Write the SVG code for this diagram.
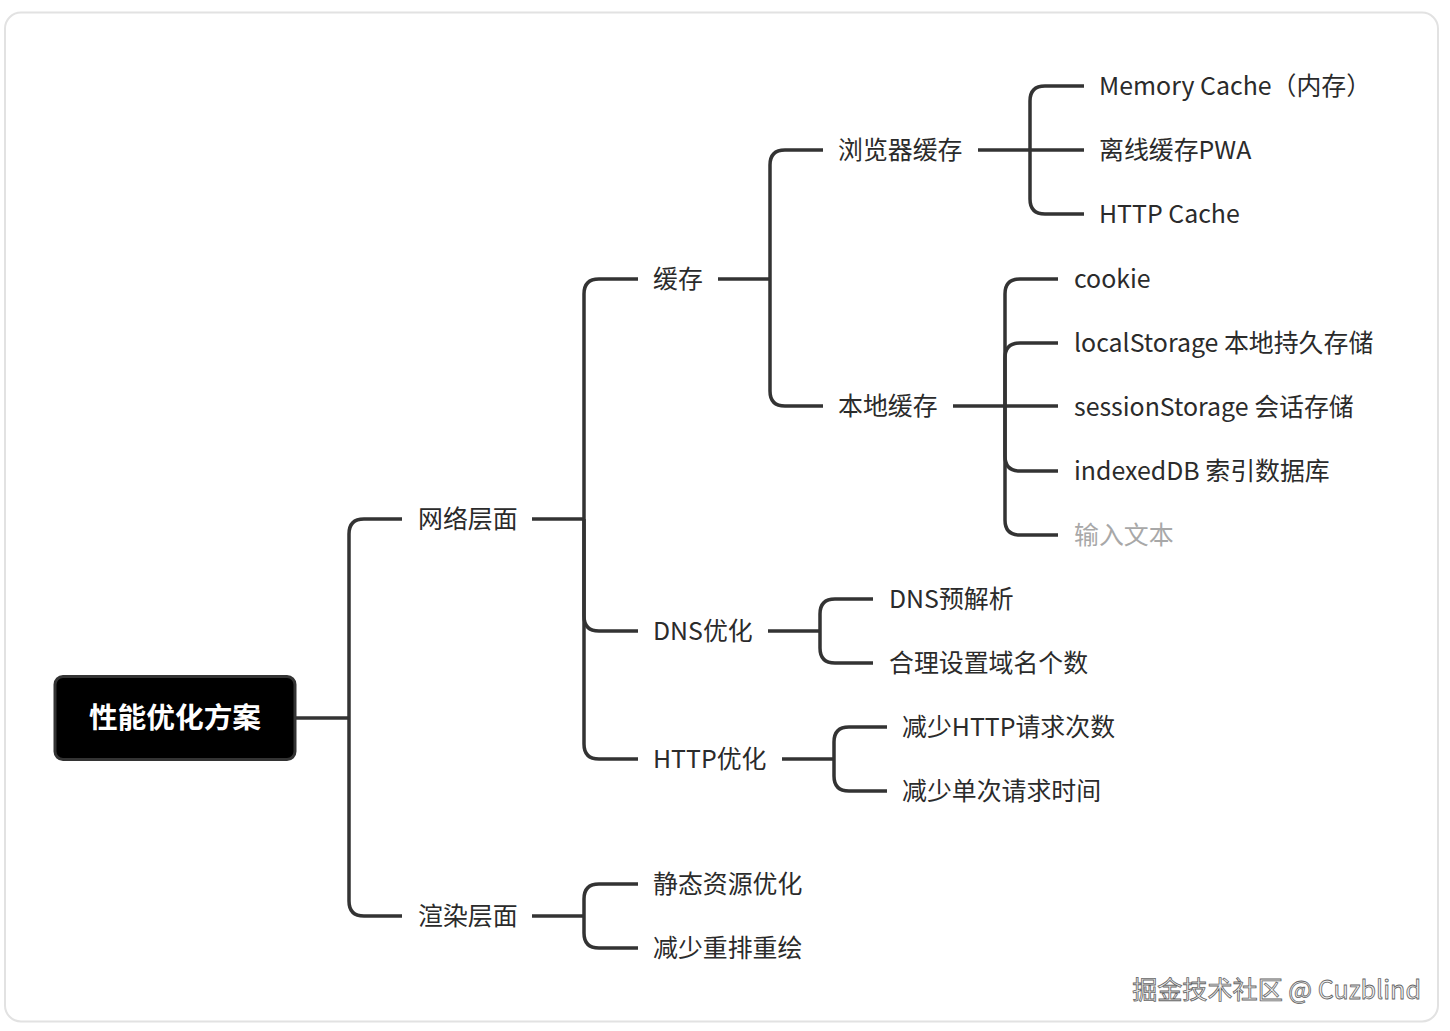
<svg xmlns="http://www.w3.org/2000/svg" width="1450" height="1031" viewBox="0 0 1450 1031">
<style>
.t{font-family:"Noto Sans CJK SC","Noto Sans",sans-serif;font-size:24.9px;fill:#2b2b2b}
.g{fill:#a8a8a8}
.root{font-family:"Noto Sans CJK SC","Noto Sans",sans-serif;font-size:28.7px;font-weight:bold;fill:#fff}
.c path{fill:none;stroke:#333;stroke-width:3.5;stroke-linecap:butt}
.wm{font-family:"Noto Sans CJK SC","Noto Sans",sans-serif;font-size:25.1px;fill:#f2f2f2;stroke:#666;stroke-width:0.8}
</style>
<rect x="0" y="0" width="1450" height="1031" fill="#fff"/>
<rect x="5" y="12.5" width="1433" height="1009" rx="16" fill="#fff" stroke="#e2e2e2" stroke-width="2"/>
<g class="c" id="connectors">
<path d="M295,718 H349"/>
<path d="M349,718 V534 Q349,519 364,519 H402"/>
<path d="M349,718 V901 Q349,916 364,916 H402"/>
<path d="M532,519 H584"/>
<path d="M584,519 V294 Q584,279 599,279 H638"/>
<path d="M584,519 V616 Q584,631 599,631 H638"/>
<path d="M584,519 V744 Q584,759 599,759 H638"/>
<path d="M718,279 H770"/>
<path d="M770,279 V165 Q770,150 785,150 H823"/>
<path d="M770,279 V391 Q770,406 785,406 H823"/>
<path d="M978,150 H1030"/>
<path d="M1030,150 V101 Q1030,86 1045,86 H1084"/>
<path d="M1030,150 H1084"/>
<path d="M1030,150 V199 Q1030,214 1045,214 H1084"/>
<path d="M953,406 H1005"/>
<path d="M1005,406 V294 Q1005,279 1020,279 H1058"/>
<path d="M1005,406 V358 Q1005,343 1020,343 H1058"/>
<path d="M1005,406 H1058"/>
<path d="M1005,406 V456 Q1005,471 1020,471 H1058"/>
<path d="M1005,406 V520 Q1005,535 1020,535 H1058"/>
<path d="M768,631 H820"/>
<path d="M820,631 V614 Q820,599 835,599 H873"/>
<path d="M820,631 V648 Q820,663 835,663 H873"/>
<path d="M782,759 H834"/>
<path d="M834,759 V742 Q834,727 849,727 H887"/>
<path d="M834,759 V776 Q834,791 849,791 H887"/>
<path d="M532,916 H584"/>
<path d="M584,916 V899 Q584,884 599,884 H638"/>
<path d="M584,916 V933 Q584,948 599,948 H638"/>
</g>
<g id="root">
<rect x="55" y="676.5" width="240" height="83" rx="8" fill="#000" stroke="#333" stroke-width="3"/>
<text class="root" x="175" y="728" text-anchor="middle">性能优化方案</text>
</g>
<g id="n-network"><text class="t" x="418" y="528">网络层面</text></g>
<g id="n-render"><text class="t" x="418" y="925">渲染层面</text></g>
<g id="n-cache"><text class="t" x="653" y="288">缓存</text></g>
<g id="n-dns"><text class="t" x="653" y="640">DNS优化</text></g>
<g id="n-http"><text class="t" x="653" y="768">HTTP优化</text></g>
<g id="n-browser"><text class="t" x="838" y="159">浏览器缓存</text></g>
<g id="n-local"><text class="t" x="838" y="415">本地缓存</text></g>
<g id="n-memory"><text class="t" x="1099" y="95">Memory Cache（内存）</text></g>
<g id="n-pwa"><text class="t" x="1099" y="159">离线缓存PWA</text></g>
<g id="n-httpcache"><text class="t" x="1099" y="223">HTTP Cache</text></g>
<g id="n-cookie"><text class="t" x="1074" y="288">cookie</text></g>
<g id="n-localstorage"><text class="t" x="1074" y="352">localStorage 本地持久存储</text></g>
<g id="n-session"><text class="t" x="1074" y="416">sessionStorage 会话存储</text></g>
<g id="n-indexeddb"><text class="t" x="1074" y="480">indexedDB 索引数据库</text></g>
<g id="n-input"><text class="t g" x="1074" y="544">输入文本</text></g>
<g id="n-dnspre"><text class="t" x="889" y="608">DNS预解析</text></g>
<g id="n-domain"><text class="t" x="889" y="672">合理设置域名个数</text></g>
<g id="n-reqcount"><text class="t" x="902" y="736">减少HTTP请求次数</text></g>
<g id="n-reqtime"><text class="t" x="902" y="800">减少单次请求时间</text></g>
<g id="n-static"><text class="t" x="653" y="893">静态资源优化</text></g>
<g id="n-reflow"><text class="t" x="653" y="957">减少重排重绘</text></g>
<text class="wm" x="1421" y="999" text-anchor="end">掘金技术社区 @ Cuzblind</text>
</svg>
